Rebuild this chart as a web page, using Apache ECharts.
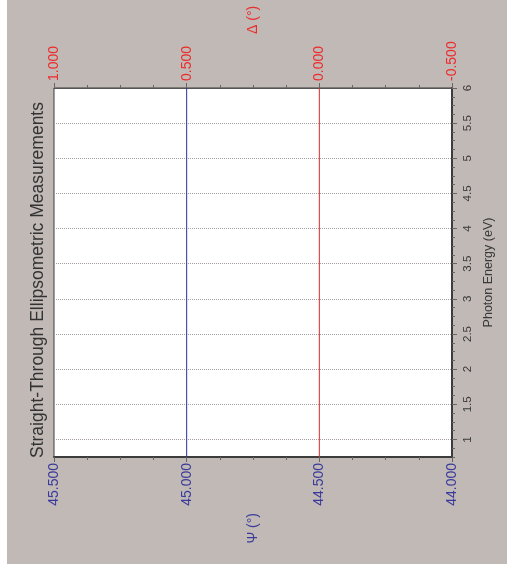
<!DOCTYPE html>
<html>
<head>
<meta charset="utf-8">
<style>
	html, body { margin: 0; padding: 0; background: #ffffff; }
	.panel { position: absolute; left: 7px; top: 0; width: 500px; height: 564px; background: #c0b9b6; }
	.chart-block { position: absolute; left: 0; top: 0; width: 507px; height: 577px; }
</style>
<script src="https://cdn.jsdelivr.net/npm/echarts@6/dist/echarts.min.js"></script>
</head>
<body>
<div class="panel"></div>
<div class="chart-block"></div>
<script>
	var chartTitle = 'Straight-Through Ellipsometric Measurements';

	// photon energy (eV) and the two measured angles
	var photonEnergy = [0.75, 6];
	var psiValues = [45.0, 45.0];
	var deltaValues = [0.0, 0.0];

	var energyTicks = [1, 1.5, 2, 2.5, 3, 3.5, 4, 4.5, 5, 5.5, 6];

	var chartColors = {
		psi: '#2d2da6',
		delta: '#dd2a2a',
		psiText: '#3a3a9c',
		deltaText: '#ee2b2b',
		axesText: '#3a3a3a',
		frame: '#3c3c3c',
		ticks: '#666666',
		gridLines: '#a59c9c'
	};

	var fontFamily = '"Liberation Sans", Arial, sans-serif';

	var rootElement = document.querySelector('.chart-block');
	var chart = echarts.init(rootElement, null, { renderer: 'canvas' });

	function pairUp(xs, ys) {
		var out = [];
		for (var i = 0; i < xs.length; i++) out.push([xs[i], ys[i]]);
		return out;
	}

	function fmt3(v) {
		return (Math.abs(v) < 1e-9 ? 0 : v).toFixed(3);
	}

	var options = {
		animation: false,
		backgroundColor: 'transparent',
		textStyle: { fontFamily: fontFamily },
		grid: {
			left: 54,
			right: 55,
			top: 88,
			bottom: 120,
			show: true,
			backgroundColor: '#ffffff',
			borderColor: chartColors.frame,
			borderWidth: 1
		},
		graphic: [{
			type: 'text',
			x: 38,
			y: 458,
			rotation: Math.PI / 2,
			style: {
				text: chartTitle,
				fill: '#333333',
				font: '17.5px ' + fontFamily,
				textAlign: 'left',
				textVerticalAlign: 'middle'
			}
		}],
		xAxis: [
			{
				type: 'value',
				position: 'bottom',
				min: 44,
				max: 45.5,
				interval: 0.5,
				inverse: true,
				name: 'Ψ (°)',
				nameLocation: 'middle',
				nameRotate: 90,
				nameGap: 56,
				nameTextStyle: { color: chartColors.psiText, fontSize: 14 },
				axisLine: { show: true, onZero: false, lineStyle: { color: chartColors.frame, width: 2 } },
				axisTick: { show: true, length: 5, lineStyle: { color: chartColors.ticks } },
				minorTick: { show: true, splitNumber: 4, length: 3, lineStyle: { color: chartColors.ticks } },
				axisLabel: {
					rotate: 90,
					margin: 6,
					color: chartColors.psiText,
					fontSize: 14,
					formatter: fmt3
				},
				splitLine: { show: false }
			},
			{
				type: 'value',
				position: 'top',
				min: -0.5,
				max: 1.0,
				interval: 0.5,
				inverse: true,
				name: 'Δ (°)',
				nameLocation: 'middle',
				nameRotate: 90,
				nameGap: 54,
				nameTextStyle: { color: chartColors.deltaText, fontSize: 14 },
				axisLine: { show: true, onZero: false, lineStyle: { color: '#555555', width: 1 } },
				axisTick: { show: true, length: 5, lineStyle: { color: chartColors.ticks } },
				minorTick: { show: true, splitNumber: 4, length: 3, lineStyle: { color: chartColors.ticks } },
				axisLabel: {
					rotate: -90,
					margin: 7,
					color: chartColors.deltaText,
					fontSize: 14,
					formatter: fmt3
				},
				splitLine: { show: false }
			}
		],
		yAxis: [
			{
				type: 'value',
				position: 'right',
				min: 0.75,
				max: 6,
				name: 'Photon Energy (eV)',
				nameLocation: 'middle',
				nameRotate: 90,
				nameGap: 24,
				nameTextStyle: { color: chartColors.axesText, fontSize: 12.5 },
				axisLine: { show: true, onZero: false, lineStyle: { color: chartColors.frame, width: 2 } },
				axisTick: {
					show: true,
					length: 5,
					customValues: energyTicks,
					lineStyle: { color: chartColors.ticks }
				},
				axisLabel: {
					rotate: 90,
					margin: 10,
					color: chartColors.axesText,
					fontSize: 11.5,
					customValues: energyTicks
				},
				splitLine: {
					show: true,
					lineStyle: { color: chartColors.gridLines, type: 'dotted', width: 1 }
				}
			},
			{
				// minor ticks only
				type: 'value',
				position: 'right',
				min: 0.75,
				max: 6,
				interval: 0.125,
				axisLine: { show: false, onZero: false },
				axisTick: { show: true, length: 3, lineStyle: { color: chartColors.ticks } },
				axisLabel: { show: false },
				splitLine: { show: false }
			}
		],
		series: [
			{
				name: 'Psi',
				type: 'line',
				xAxisIndex: 0,
				yAxisIndex: 0,
				data: pairUp(psiValues, photonEnergy),
				showSymbol: false,
				symbol: 'none',
				lineStyle: { color: chartColors.psi, width: 1 },
				silent: true
			},
			{
				name: 'Delta',
				type: 'line',
				xAxisIndex: 1,
				yAxisIndex: 0,
				data: pairUp(deltaValues, photonEnergy),
				showSymbol: false,
				symbol: 'none',
				lineStyle: { color: chartColors.delta, width: 1 },
				silent: true
			}
		]
	};

	chart.setOption(options);
</script>
</body>
</html>
